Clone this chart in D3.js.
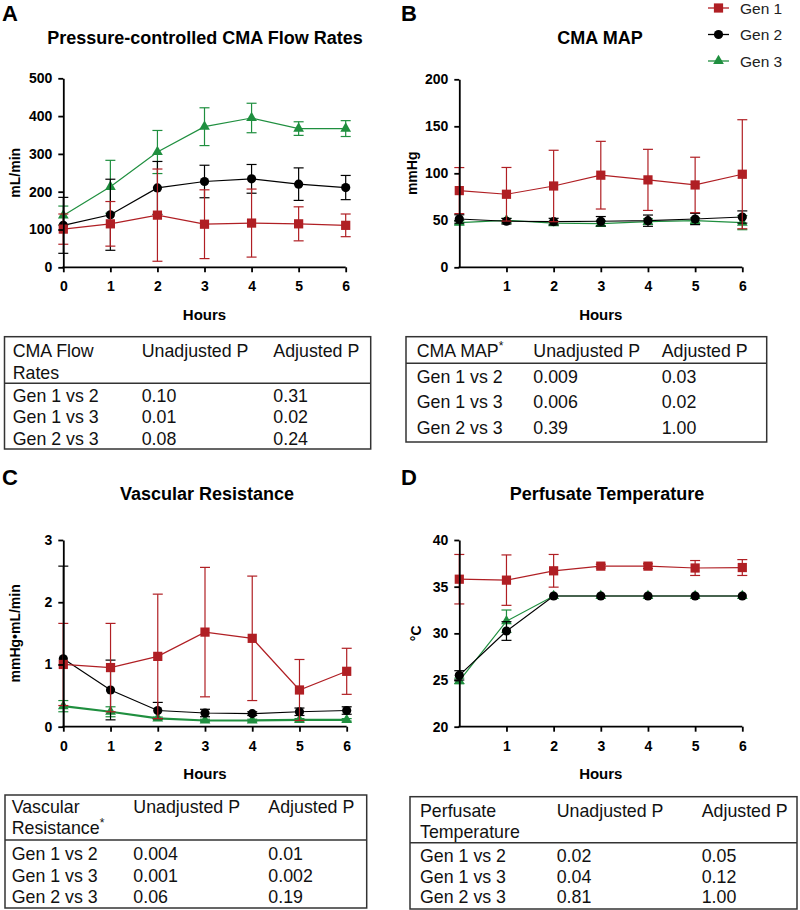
<!DOCTYPE html>
<html><head><meta charset="utf-8">
<script src="https://cdn.jsdelivr.net/npm/d3@7"></script>
<style>body{margin:0;background:#fff} svg{display:block}</style>
</head><body><svg id="c" width="800" height="910"></svg>
<script>
// ---------- DATA ----------
const hours = [0, 1, 2, 3, 4, 5, 6];
const seriesNames = ["Gen 1", "Gen 2", "Gen 3"];

// A: Pressure-controlled CMA Flow Rates (mL/min), mean and SD
const flowGen1 = [101, 115, 138, 114, 117, 115, 111];
const flowGen1SD = [40, 59, 122, 91, 90, 45, 30];
const flowGen2 = [111, 139, 210, 227, 234, 220, 211];
const flowGen2SD = [74, 94, 70, 43, 38, 43, 32];
const flowGen3 = [137, 213, 305, 372, 395, 367, 367];
const flowGen3SD = [25, 70, 57, 50, 39, 18, 21];
const flowTicks = [0, 100, 200, 300, 400, 500];

// B: CMA MAP (mmHg)
const mapGen1 = [81.6, 77.7, 86.5, 98, 93, 87.6, 99];
const mapGen1SD = [24.5, 28.5, 38, 36, 32.5, 29.5, 58];
const mapGen2 = [51.4, 49, 48.6, 49, 49.6, 51.4, 53.5];
const mapGen2SD = [4.5, 3, 3.5, 5, 6, 6, 6.5];
const mapGen3 = [47.5, 50, 47, 46.5, 48.6, 49.6, 47.5];
const mapGen3SD = [2, 2, 2, 3, 3, 3, 7.5];
const mapTicks = [0, 50, 100, 150, 200];

// C: Vascular Resistance (mmHg•mL/min)
const vrGen1 = [1.0, 0.95, 1.13, 1.52, 1.42, 0.59, 0.89];
const vrGen1SD = [0.66, 0.71, 1.0, 1.04, 1.0, 0.49, 0.37];
const vrGen2 = [1.09, 0.59, 0.26, 0.22, 0.21, 0.24, 0.26];
const vrGen2SD = [1.49, 0.48, 0.13, 0.06, 0.03, 0.06, 0.06];
const vrGen3 = [0.33, 0.24, 0.135, 0.1, 0.1, 0.11, 0.11];
const vrGen3SD = [0.09, 0.08, 0.02, 0.02, 0.02, 0.02, 0.02];
const vrTicks = [0, 1, 2, 3];

// D: Perfusate Temperature (°C)
const tempGen1 = [35.8, 35.7, 36.7, 37.2, 37.2, 37.0, 37.05];
const tempGen1SD = [2.65, 2.7, 1.75, 0.2, 0.25, 0.8, 0.85];
const tempGen2 = [25.5, 30.25, 34, 34, 34, 34, 34];
const tempGen2SD = [0.5, 1.0, 0, 0, 0, 0, 0];
const tempGen3 = [24.9, 31.3, 34, 34, 34, 34, 34];
const tempGen3SD = [0.3, 1.2, 0, 0, 0, 0, 0];
const tempTicks = [20, 25, 30, 35, 40];

// Tables
const tableColHeaders = ["Unadjusted P", "Adjusted P"];
const comparisons = ["Gen 1 vs 2", "Gen 1 vs 3", "Gen 2 vs 3"];
const flowUnadj = ["0.10", "0.01", "0.08"];
const flowAdj = ["0.31", "0.02", "0.24"];
const mapUnadj = ["0.009", "0.006", "0.39"];
const mapAdj = ["0.03", "0.02", "1.00"];
const vrUnadj = ["0.004", "0.001", "0.06"];
const vrAdj = ["0.01", "0.002", "0.19"];
const tempUnadj = ["0.02", "0.04", "0.81"];
const tempAdj = ["0.05", "0.12", "1.00"];

// ---------- STYLE ----------
const colors = ["#b01f24", "#000000", "#1f8f3f"];
const shapes = [d3.symbolSquare, d3.symbolCircle, d3.symbolTriangle];
const shapeSizes = [85, 66, 50];
const FONT = "'Liberation Sans', Arial, Helvetica, sans-serif";

const svg = d3.select("#c");
svg.append("rect").attr("width", 800).attr("height", 910).attr("fill", "#fff");

function drawPanel(p) {
  const x = d3.scaleLinear().domain([0, 6]).range([p.x0, p.x1]);
  const y = d3.scaleLinear().domain(p.domain).range([p.y0, p.y1]);
  const g = svg.append("g");

  // letter + title
  svg.append("text").attr("x", p.letterX).attr("y", p.letterY).text(p.letter)
    .attr("font-family", FONT).attr("font-weight", "bold").attr("font-size", 22);
  svg.append("text").attr("x", p.titleX).attr("y", p.titleY).text(p.title)
    .attr("text-anchor", "middle").attr("font-family", FONT).attr("font-weight", "bold").attr("font-size", 18);

  // series (drawn Gen 3, Gen 2, Gen 1)
  [2, 1, 0].forEach(i => {
    const s = p.series[i];
    const col = colors[i];
    const sg = g.append("g");
    const lw = (p.thickGreen && i === 2) ? 2.2 : 1.2;
    // error bars
    hours.forEach((h, k) => {
      const sd = s.sd[k];
      if (!sd) return;
      const hi = s.mean[k] + sd;
      let lo = s.mean[k] - sd;
      const clipped = lo < p.domain[0];
      if (clipped) lo = p.domain[0];
      const cx = x(h);
      sg.append("line").attr("x1", cx).attr("x2", cx).attr("y1", y(hi)).attr("y2", y(lo))
        .attr("stroke", col).attr("stroke-width", 1.2);
      sg.append("line").attr("x1", cx - 5).attr("x2", cx + 5).attr("y1", y(hi)).attr("y2", y(hi))
        .attr("stroke", col).attr("stroke-width", 1.2);
      if (!clipped)
        sg.append("line").attr("x1", cx - 5).attr("x2", cx + 5).attr("y1", y(lo)).attr("y2", y(lo))
          .attr("stroke", col).attr("stroke-width", 1.2);
    });
    // line
    sg.append("path").datum(hours.map((h, k) => [h, s.mean[k]]))
      .attr("d", d3.line().x(d => x(d[0])).y(d => y(d[1])))
      .attr("fill", "none").attr("stroke", col).attr("stroke-width", lw);
    // markers
    sg.selectAll(".m").data(hours.map((h, k) => [h, s.mean[k]])).enter().append("path")
      .attr("transform", d => `translate(${x(d[0])},${y(d[1])})`)
      .attr("d", d3.symbol(shapes[i], shapeSizes[i]))
      .attr("fill", col);
  });

  // axes
  const xa = g.append("g").attr("transform", `translate(0,${p.y0})`)
    .call(d3.axisBottom(x).tickValues(p.xTicks).tickSize(5).tickSizeOuter(0).tickPadding(9).tickFormat(d3.format("d")));
  const ya = g.append("g").attr("transform", `translate(${p.x0},0)`)
    .call(d3.axisLeft(y).tickValues(p.yTicks).tickSize(5).tickSizeOuter(0).tickPadding(6).tickFormat(d3.format("d")));
  [xa, ya].forEach(a => {
    a.selectAll("path,line").attr("stroke", "#000").attr("stroke-width", 1.8);
    a.selectAll("text").attr("font-family", FONT).attr("font-weight", "bold").attr("font-size", 14).attr("fill", "#000");
  });
  // extend x-axis line to cover the y-axis corner
  xa.select(".domain").attr("d", `M${p.x0 - 0.9},0H${p.x1}`);

  // axis titles
  svg.append("text").attr("x", (p.x0 + p.x1) / 2).attr("y", p.y0 + 52.5).text("Hours")
    .attr("text-anchor", "middle").attr("font-family", FONT).attr("font-weight", "bold").attr("font-size", 15);
  svg.append("text").attr("transform", `translate(${p.yLabelX},${(p.y0 + p.y1) / 2}) rotate(-90)`)
    .text(p.yLabel).attr("text-anchor", "middle").attr("font-family", FONT).attr("font-weight", "bold").attr("font-size", 14);
}

drawPanel({
  letter: "A", letterX: 2, letterY: 21, title: "Pressure-controlled CMA Flow Rates", titleX: 205, titleY: 43.5,
  x0: 63.3, x1: 345.7, y0: 267.3, y1: 78.3, domain: [0, 500], yTicks: flowTicks, xTicks: hours,
  yLabel: "mL/min", yLabelX: 20,
  series: [{ mean: flowGen1, sd: flowGen1SD }, { mean: flowGen2, sd: flowGen2SD }, { mean: flowGen3, sd: flowGen3SD }]
});
drawPanel({
  letter: "B", letterX: 401, letterY: 21, title: "CMA MAP", titleX: 600, titleY: 43.5,
  x0: 459.3, x1: 742.3, y0: 267.3, y1: 79.3, domain: [0, 200], yTicks: mapTicks, xTicks: hours.slice(1),
  yLabel: "mmHg", yLabelX: 417,
  series: [{ mean: mapGen1, sd: mapGen1SD }, { mean: mapGen2, sd: mapGen2SD }, { mean: mapGen3, sd: mapGen3SD }]
});
drawPanel({
  letter: "C", letterX: 2, letterY: 485, title: "Vascular Resistance", titleX: 207, titleY: 500,
  x0: 63.3, x1: 346.7, y0: 726.7, y1: 540, domain: [0, 3], yTicks: vrTicks, xTicks: hours,
  yLabel: "mmHg•mL/min", yLabelX: 20, thickGreen: true,
  series: [{ mean: vrGen1, sd: vrGen1SD }, { mean: vrGen2, sd: vrGen2SD }, { mean: vrGen3, sd: vrGen3SD }]
});
drawPanel({
  letter: "D", letterX: 401, letterY: 485, title: "Perfusate Temperature", titleX: 607, titleY: 500,
  x0: 459.3, x1: 742.3, y0: 726.7, y1: 540, domain: [20, 40], yTicks: tempTicks, xTicks: hours.slice(1),
  yLabel: "°C", yLabelX: 421,
  series: [{ mean: tempGen1, sd: tempGen1SD }, { mean: tempGen2, sd: tempGen2SD }, { mean: tempGen3, sd: tempGen3SD }]
});

// legend
const legendYs = [8, 34.5, 61];
seriesNames.forEach((name, i) => {
  const lg = svg.append("g");
  lg.append("line").attr("x1", 708).attr("x2", 729).attr("y1", legendYs[i]).attr("y2", legendYs[i])
    .attr("stroke", colors[i]).attr("stroke-width", 1.3);
  lg.append("path").attr("transform", `translate(718.5,${legendYs[i]})`)
    .attr("d", d3.symbol(shapes[i], shapeSizes[i])).attr("fill", colors[i]);
  lg.append("text").attr("x", 740).attr("y", legendYs[i] + 5.5).text(name)
    .attr("font-family", FONT).attr("font-size", 15.5).attr("fill", "#222");
});

// tables
function drawTable(t) {
  const tg = svg.append("g").attr("font-family", FONT).attr("font-size", 17.8).attr("fill", "#111");
  tg.append("rect").attr("x", t.left).attr("y", t.top).attr("width", t.right - t.left).attr("height", t.bottom - t.top)
    .attr("fill", "none").attr("stroke", "#333").attr("stroke-width", 1.5);
  tg.append("line").attr("x1", t.left).attr("x2", t.right).attr("y1", t.sep).attr("y2", t.sep)
    .attr("stroke", "#333").attr("stroke-width", 1.5);
  t.header.forEach((line, j) => {
    const tx = tg.append("text").attr("x", t.cols[0]).attr("y", t.headerYs[j]).text(line);
    if (t.star && j === t.header.length - 1)
      tx.append("tspan").attr("dy", -7).attr("font-size", 12).text("*");
  });
  tableColHeaders.forEach((h, j) => tg.append("text").attr("x", t.cols[j + 1]).attr("y", t.headerYs[0]).text(h));
  comparisons.forEach((c, r) => {
    tg.append("text").attr("x", t.cols[0]).attr("y", t.rowYs[r]).text(c);
    tg.append("text").attr("x", t.cols[1]).attr("y", t.rowYs[r]).text(t.unadj[r]);
    tg.append("text").attr("x", t.cols[2]).attr("y", t.rowYs[r]).text(t.adj[r]);
  });
}
drawTable({ left: 4.5, right: 370.7, top: 336.7, sep: 383.3, bottom: 449, cols: [12.7, 141.7, 273.3],
  header: ["CMA Flow", "Rates"], headerYs: [356.5, 379], rowYs: [401.5, 423.3, 445], unadj: flowUnadj, adj: flowAdj });
drawTable({ left: 406, right: 766.7, top: 336.7, sep: 363.3, bottom: 442, cols: [416.7, 533.3, 661.7],
  header: ["CMA MAP"], star: true, headerYs: [356.5], rowYs: [383.3, 408.3, 433.8], unadj: mapUnadj, adj: mapAdj });
drawTable({ left: 5, right: 366.7, top: 795, sep: 840, bottom: 908, cols: [11.7, 133.3, 268.3],
  header: ["Vascular", "Resistance"], star: true, headerYs: [813.3, 834], rowYs: [860, 881.7, 903], unadj: vrUnadj, adj: vrAdj });
drawTable({ left: 410, right: 797, top: 796.7, sep: 842.7, bottom: 909, cols: [420, 556.7, 701.7],
  header: ["Perfusate", "Temperature"], headerYs: [816.7, 838], rowYs: [861.7, 883.3, 903.3], unadj: tempUnadj, adj: tempAdj });
</script>
</body></html>
